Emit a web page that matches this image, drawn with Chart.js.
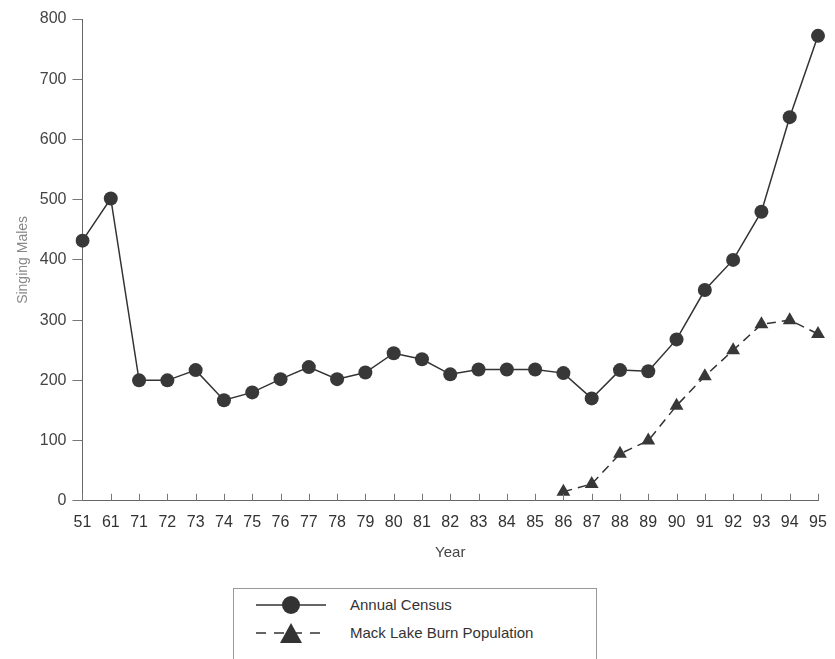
<!DOCTYPE html>
<html>
<head>
<meta charset="utf-8">
<script src="https://cdn.jsdelivr.net/npm/chart.js@4/dist/chart.umd.min.js"></script>
<style>
  body { margin: 0; background: #fff; width: 835px; height: 659px; overflow: hidden; position: relative; }
  #wrap { position: absolute; left: 0; top: 0; width: 835px; height: 566px; }
  #legend {
    position: absolute; left: 233px; top: 588px; width: 364px; height: 90px;
    border: 1px solid #999; box-sizing: border-box;
    font-family: "Liberation Sans", Arial, sans-serif; font-size: 15px; color: #333;
  }
  .row { position: absolute; left: 20px; height: 24px; }
  .row svg { position: absolute; left: 0; top: 0; }
  .row span { position: absolute; left: 96px; top: 3px; white-space: nowrap; }
</style>
</head>
<body>
<div id="wrap"><canvas id="chart"></canvas></div>
<div id="legend">
  <div class="row" style="top:4px">
    <svg width="80" height="24"><line x1="2" y1="12" x2="72" y2="12" stroke="#333" stroke-width="1.5"/><circle cx="37" cy="12" r="9" fill="#333"/></svg>
    <span>Annual Census</span>
  </div>
  <div class="row" style="top:32px">
    <svg width="80" height="24"><line x1="2" y1="12" x2="72" y2="12" stroke="#333" stroke-width="1.5" stroke-dasharray="10,8"/><polygon points="37,2 48,22 26,22" fill="#333"/></svg>
    <span>Mack Lake Burn Population</span>
  </div>
</div>
<script>
const years = ['51', '61', '71', '72', '73', '74', '75', '76', '77', '78', '79', '80', '81', '82', '83', '84', '85', '86', '87', '88', '89', '90', '91', '92', '93', '94', '95'];
const annualCensus = [432, 502, 200, 200, 217, 167, 180, 202, 222, 202, 213, 245, 235, 210, 218, 218, 218, 212, 170, 217, 215, 268, 350, 400, 480, 637, 772];
const mackLake = [null, null, null, null, null, null, null, null, null, null, null, null, null, null, null, null, null, 15, 28, 78, 100, 158, 207, 250, 293, 300, 277];
const yTicks = [0, 100, 200, 300, 400, 500, 600, 700, 800];

// small tick marks pointing up from the x axis
const innerTicks = {
    id: 'innerTicks',
    afterDraw(chart) {
        const ctx = chart.ctx;
        const x = chart.scales.x;
        const bottom = chart.chartArea.bottom;
        ctx.save();
        ctx.strokeStyle = '#777';
        ctx.lineWidth = 1;
        x.ticks.forEach((t, i) => {
            const px = Math.round(x.getPixelForTick(i)) + 0.5;
            ctx.beginPath();
            ctx.moveTo(px, bottom);
            ctx.lineTo(px, bottom - 7);
            ctx.stroke();
        });
        ctx.restore();
    }
};

new Chart(document.getElementById('chart'), {
    type: 'line',
    data: {
        labels: years,
        datasets: [{
            label: 'Annual Census',
            data: annualCensus,
            borderColor: '#333',
            backgroundColor: '#333',
            borderWidth: 1.5,
            pointStyle: 'circle',
            pointRadius: 7,
            pointBackgroundColor: '#383838',
            pointBorderWidth: 0,
            tension: 0
        }, {
            label: 'Mack Lake Burn Population',
            data: mackLake,
            borderColor: '#333',
            backgroundColor: '#333',
            borderWidth: 1.5,
            borderDash: [9, 6],
            pointStyle: 'triangle',
            pointRadius: 8,
            pointBackgroundColor: '#383838',
            pointBorderWidth: 0,
            tension: 0
        }]
    },
    options: {
        responsive: true,
        maintainAspectRatio: false,
        animation: false,
        layout: { padding: { top: 19, right: 17, left: 11, bottom: 0 } },
        plugins: {
            legend: { display: false },
            tooltip: { enabled: false }
        },
        scales: {
            x: {
                offset: false,
                afterFit: s => { s.paddingRight = 0; },
                grid: { display: false, drawTicks: false },
                border: { display: true, color: '#666', width: 1 },
                ticks: {
                    color: '#333',
                    font: { family: 'Liberation Sans, Arial, sans-serif', size: 16 },
                    padding: 12,
                    maxRotation: 0,
                    autoSkip: false
                },
                title: {
                    display: true,
                    text: 'Year',
                    color: '#444',
                    font: { family: 'Liberation Sans, Arial, sans-serif', size: 15 },
                    padding: { top: 0 }
                }
            },
            y: {
                min: 0,
                max: 800,
                afterBuildTicks: axis => { axis.ticks = yTicks.map(v => ({ value: v })); },
                grid: { drawOnChartArea: false, drawTicks: true, tickLength: 10, color: '#777' },
                border: { display: true, color: '#666', width: 1 },
                ticks: {
                    color: '#444',
                    font: { family: 'Liberation Sans, Arial, sans-serif', size: 16 },
                    padding: 6
                },
                title: {
                    display: true,
                    text: 'Singing Males',
                    color: '#888',
                    font: { family: 'Liberation Sans, Arial, sans-serif', size: 14 },
                    padding: { bottom: 2 }
                }
            }
        }
    },
    plugins: [innerTicks]
});
</script>
</body>
</html>
